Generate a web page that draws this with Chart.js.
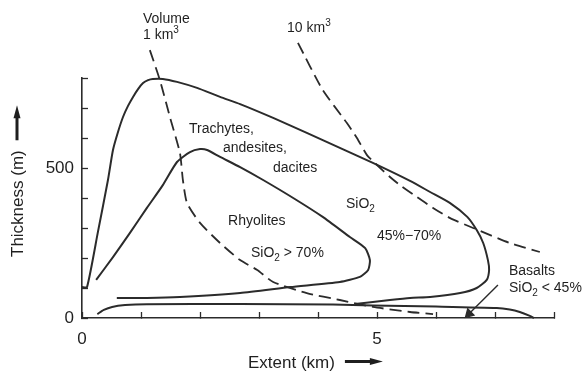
<!DOCTYPE html>
<html>
<head>
<meta charset="utf-8">
<script src="https://cdn.jsdelivr.net/npm/chart.js@4/dist/chart.umd.min.js"></script>
<style>
  html, body { margin: 0; padding: 0; background: #fff; }
  canvas { display: block; }
</style>
</head>
<body>
<canvas id="lava" width="584" height="372"></canvas>
<script>
// Trachytes, andesites, dacites (SiO2 45%-70%)
var outerX = [0, 0.085, 0.27, 0.44, 0.525, 0.61, 0.695, 0.78, 0.865, 0.95, 1.035, 1.12, 1.2, 1.37, 1.61, 1.95, 2.34, 2.68, 3.24, 3.81, 4.37, 4.93, 5.56, 5.9, 6.24, 6.53, 6.69, 6.8, 6.88, 6.9, 6.86, 6.69, 6.41, 5.9, 5.56, 5.22, 4.93, 4.63];
var outerY = [103, 103, 287, 460, 560, 620, 670, 707, 737, 763, 783, 793, 797, 797, 787, 767, 737, 713, 667, 617, 567, 517, 457, 420, 383, 337, 293, 250, 193, 160, 127, 100, 83, 70, 67, 60, 53, 47];

// Rhyolites (SiO2 > 70%)
var rhyoX = [0.24, 0.525, 0.81, 1.1, 1.37, 1.61, 1.83, 2.0, 2.12, 2.34, 2.68, 3.07, 3.58, 4.08, 4.54, 4.8, 4.88, 4.85, 4.71, 4.37, 3.53, 2.68, 1.66, 1.1, 0.59];
var rhyoY = [127, 203, 283, 367, 443, 520, 553, 563, 560, 537, 503, 460, 400, 337, 270, 233, 193, 160, 137, 120, 103, 83, 70, 67, 67];

// Basalts (SiO2 < 45%)
var basaltX = [0.26, 0.37, 0.51, 0.73, 1.1, 2.68, 4.25, 4.93, 6.0, 7.03, 7.25, 7.42, 7.58, 7.66];
var basaltY = [13, 27, 37, 43, 46, 47, 45, 42, 38, 33, 28, 20, 8, 0];

// volume lines
var vol1X = [1.15, 1.32, 1.49, 1.66, 1.71, 1.78, 2.0, 2.34, 2.68, 2.97, 3.24, 3.81, 4.37, 4.93, 5.56, 5.95];
var vol1Y = [893, 793, 670, 550, 460, 383, 317, 250, 193, 160, 120, 83, 60, 37, 20, 13];
var vol10X = [3.66, 4.08, 4.49, 4.66, 4.83, 5.0, 5.22, 5.39, 5.68, 5.95, 6.24, 6.63, 7.25, 7.76];
var vol10Y = [917, 760, 650, 600, 543, 510, 470, 443, 403, 367, 333, 300, 250, 220];

// pointer from the basalt label
var arrowX = [7.05, 6.56];
var arrowY = [110, 14];

var xTickLabels = [0, 5];
var yTickLabels = [0, 500];

var FONT = '"Liberation Sans", Arial, Helvetica, sans-serif';
var INK = '#2b2b2b';

function pts(xs, ys) {
  return xs.map(function (x, i) { return { x: x, y: ys[i] }; });
}

// text notes placed in data units (left edge, baseline)
var notes = [
  { x: 1.034, y: 983, parts: [['Volume']] },
  { x: 1.034, y: 930, parts: [['1 km'], ['3', 'sup']] },
  { x: 3.475, y: 953, parts: [['10 km'], ['3', 'sup']] },
  { x: 1.814, y: 617, parts: [['Trachytes,']] },
  { x: 2.39, y: 553, parts: [['andesites,']] },
  { x: 3.237, y: 487, parts: [['dacites']] },
  { x: 2.475, y: 310, parts: [['Rhyolites']] },
  { x: 2.864, y: 203, parts: [['SiO'], ['2', 'sub'], [' > 70%']] },
  { x: 4.475, y: 367, parts: [['SiO'], ['2', 'sub']] },
  { x: 5.0, y: 260, parts: [['45%\u221270%']] },
  { x: 7.237, y: 143, parts: [['Basalts']] },
  { x: 7.237, y: 87, parts: [['SiO'], ['2', 'sub'], [' < 45%']] }
];

function drawRich(ctx, parts, x, y, size) {
  parts.forEach(function (p) {
    var small = p[1];
    ctx.font = (small ? Math.round(size * 0.72) : size) + 'px ' + FONT;
    var dy = small === 'sub' ? size * 0.3 : (small === 'sup' ? -size * 0.42 : 0);
    ctx.fillText(p[0], x, y + dy);
    x += ctx.measureText(p[0]).width;
  });
}

function arrow(ctx, x1, y, x2) {
  // horizontal arrow in current transform
  var dir = x2 > x1 ? 1 : -1;
  ctx.beginPath();
  ctx.lineWidth = 3;
  ctx.moveTo(x1, y);
  ctx.lineTo(x2 - dir * 10, y);
  ctx.stroke();
  ctx.beginPath();
  ctx.moveTo(x2, y);
  ctx.lineTo(x2 - dir * 13, y - 3.5);
  ctx.lineTo(x2 - dir * 13, y + 3.5);
  ctx.closePath();
  ctx.fill();
}

var overlay = {
  id: 'overlay',
  afterDatasetsDraw: function (chart) {
    var ctx = chart.ctx;
    var xs = chart.scales.x, ys = chart.scales.y;
    ctx.save();
    ctx.fillStyle = '#1f1f1f';
    ctx.strokeStyle = '#1f1f1f';
    ctx.textAlign = 'left';
    ctx.textBaseline = 'alphabetic';
    notes.forEach(function (n) {
      drawRich(ctx, n.parts, xs.getPixelForValue(n.x), ys.getPixelForValue(n.y), 14);
    });

    // axis titles with arrows
    var a = chart.chartArea;
    ctx.font = '17px ' + FONT;
    var xt = 'Extent (km)';
    var w = ctx.measureText(xt).width;
    var tx = a.left + 166, ty = a.bottom + 50;
    ctx.fillText(xt, tx, ty);
    arrow(ctx, tx + w + 10, ty - 6.5, tx + w + 48);

    var yt = 'Thickness (m)';
    w = ctx.measureText(yt).width;
    ctx.translate(23, a.bottom - 61);
    ctx.rotate(-Math.PI / 2);
    ctx.fillText(yt, 0, 0);
    arrow(ctx, w + 10, -6, w + 45);
    ctx.restore();
  }
};

Chart.defaults.font.family = FONT;
Chart.defaults.color = '#1f1f1f';

var line = function (xs, ys, dashed) {
  return {
    data: pts(xs, ys),
    borderColor: INK,
    borderWidth: dashed ? 1.8 : 2,
    borderDash: dashed ? [12, 6] : [],
    pointRadius: 0,
    tension: 0.2,
    fill: false,
    clip: false
  };
};

var arrowSet = {
  data: pts(arrowX, arrowY),
  borderColor: INK,
  backgroundColor: INK,
  borderWidth: 1.4,
  pointRadius: [0, 5],
  pointStyle: 'triangle',
  pointRotation: 225,
  tension: 0,
  clip: false
};

new Chart(document.getElementById('lava').getContext('2d'), {
  type: 'line',
  data: {
    datasets: [
      line(outerX, outerY, false),
      line(rhyoX, rhyoY, false),
      line(basaltX, basaltY, false),
      line(vol1X, vol1Y, true),
      line(vol10X, vol10Y, true),
      arrowSet
    ]
  },
  options: {
    responsive: false,
    animation: false,
    devicePixelRatio: 1,
    layout: { padding: { top: 78, right: 30, left: 0, bottom: 0 } },
    plugins: { legend: { display: false }, tooltip: { enabled: false } },
    scales: {
      x: {
        type: 'linear', min: 0, max: 8,
        grid: { drawOnChartArea: false, tickLength: -6, tickColor: INK, tickWidth: 1.3 },
        border: { color: INK, width: 1.6 },
        ticks: {
          stepSize: 1, autoSkip: false, maxRotation: 0, padding: 17,
          color: '#1f1f1f', font: { size: 17 },
          callback: function (v) { return xTickLabels.indexOf(v) >= 0 ? String(v) : ''; }
        },
        afterFit: function (s) { s.height = 54; }
      },
      y: {
        type: 'linear', min: 0, max: 800,
        grid: { drawOnChartArea: false, tickLength: -6, tickColor: INK, tickWidth: 1.3 },
        border: { color: INK, width: 1.6 },
        ticks: {
          stepSize: 100, autoSkip: false, padding: 14,
          color: '#1f1f1f', font: { size: 17 },
          callback: function (v) { return yTickLabels.indexOf(v) >= 0 ? String(v) : ''; }
        },
        afterFit: function (s) { s.width = 82; }
      }
    }
  },
  plugins: [overlay]
});
</script>
</body>
</html>
